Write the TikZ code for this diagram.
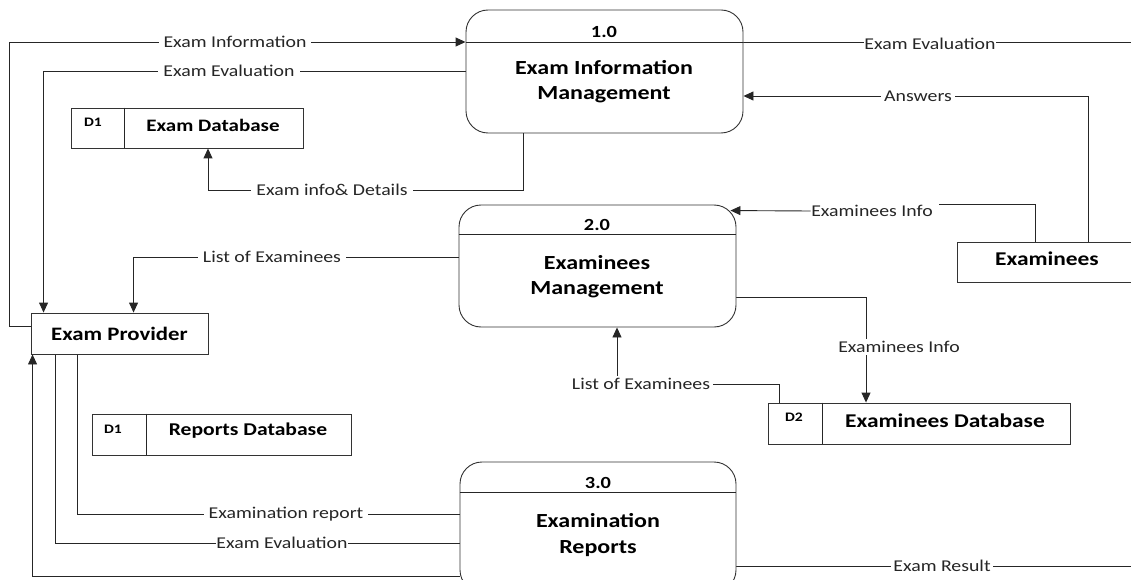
\documentclass[tikz,border=0pt]{standalone}
\usepackage{fontspec}
\setmainfont{Carlito}[FakeStretch=1.2]
\usetikzlibrary{arrows.meta}
\pgfdeclarelayer{bg}
\pgfsetlayers{bg,main}
\tikzset{
 ln/.style={draw=black!85, line width=0.9pt},
 arr/.style={ln, -{Triangle[length=10pt,width=9pt]}},
 proc/.style={draw=black!80, line width=0.9pt, rounded corners=22pt, minimum width=277pt, minimum height=123pt, inner sep=0pt, fill=white},
 ebox/.style={draw=black!80, line width=0.9pt, inner sep=0pt, fill=white},
 lbl/.style={fill=white, inner xsep=5pt, inner ysep=2pt, font=\fontsize{16.5}{18}\selectfont, text=black!85},
 tight/.style={inner xsep=0.5pt},
 ttl/.style={font=\bfseries\fontsize{20}{25}\selectfont, align=center, inner sep=0pt},
 num/.style={font=\bfseries\fontsize{17}{18}\selectfont, inner sep=0pt},
 dnum/.style={font=\bfseries\fontsize{13}{14}\selectfont, inner sep=0pt},
 dtxt/.style={font=\bfseries\fontsize{18}{20}\selectfont, inner sep=0pt},
}
\begin{document}
\begin{tikzpicture}[x=1pt,y=-1pt]
\useasboundingbox (0,0) rectangle (1131,580);
% processes
\node[proc] (p1) at (604.5,71.5) {};
\draw[ln] (p1.west |- 0,42) -- (p1.east |- 0,42);
\node[num] (p1n) at (604,32) {1.0};
\node[ttl] (p1t) at (604,82) {Exam Information\\Management};

\node[proc, minimum height=122pt] (p2) at (597.5,266) {};
\draw[ln] (p2.west |- 0,234) -- (p2.east |- 0,234);
\node[num] (p2n) at (597,225) {2.0};
\node[ttl] (p2t) at (597,277) {Examinees\\Management};

\node[proc, minimum width=276pt, minimum height=130pt] (p3) at (598,527) {};
\draw[ln] (p3.west |- 0,492) -- (p3.east |- 0,492);
\node[num] (p3n) at (598,483) {3.0};
\node[ttl, font=\bfseries\fontsize{20}{26}\selectfont] (p3t) at (598,535) {Examination\\Reports};

% entities
\node[ebox, minimum width=177pt, minimum height=41pt, font=\bfseries\fontsize{19}{20}\selectfont] (prov) at (119.5,333.5) {Exam Provider};
\node[ebox, minimum width=200pt, minimum height=40pt] (ex) at (1057,262) {};
\node[font=\bfseries\fontsize{19.5}{20}\selectfont, inner sep=0pt] (ext) at (1047,259) {Examinees};

% data stores
\node[ebox, minimum width=232pt, minimum height=40pt] (d1) at (187,128) {};
\draw[ln] (d1.north west) ++(54,0) -- ++(0,40);
\node[dnum] (d1n) at (93,122) {D1};
\node[dtxt, font=\bfseries\fontsize{17.5}{20}\selectfont] (d1t) at (213,125) {Exam Database};

\node[ebox, minimum width=259pt, minimum height=41pt] (d3) at (221.5,434.5) {};
\draw[ln] (d3.north west) ++(55,0) -- ++(0,41);
\node[dnum] (d3n) at (113,429) {D1};
\node[dtxt] (d3t) at (248,431) {Reports Database};

\node[ebox, minimum width=302pt, minimum height=41pt] (d2) at (919,423.5) {};
\draw[ln] (d2.north west) ++(55,0) -- ++(0,41);
\node[dnum] (d2n) at (794,417) {D2};
\node[dtxt, font=\bfseries\fontsize{19.5}{20}\selectfont] (d2t) at (945,421) {Examinees Database};

% free ends
\coordinate (rA) at (1135,42);
\coordinate (rB) at (1135,566);
\coordinate (p2b) at ([xshift=19.5pt]p2.south);

% labels
\node[lbl] (l1) at (235,42) {Exam Information};
\node[lbl] (l2) at (229,71) {Exam Evaluation};
\node[lbl] (l3) at (332,190) {Exam info\& Details};
\node[lbl, tight] (l4) at (930,44) {Exam Evaluation};
\node[lbl, inner xsep=3pt] (l5) at (918,96) {Answers};
\node[lbl, tight] (l6) at (872,211) {Examinees Info};
\node[lbl] (l7) at (272,257) {List of Examinees};
\node[lbl, inner xsep=2pt] (l8) at (899,347) {Examinees Info};
\node[lbl, inner xsep=3pt] (l9) at (641,384) {List of Examinees};
\node[lbl] (l10) at (286,514) {Examination report};
\node[lbl, tight] (l11) at (282,543) {Exam Evaluation};
\node[lbl, inner xsep=2pt] (l12) at (942,566) {Exam Result};

\begin{pgfonlayer}{bg}
\draw[arr] (prov.west |- 0,326) -- ++(-21,0) |- (p1.west |- 0,42);
\draw[arr] (p1.west |- 0,71) -| ([xshift=13pt]prov.north west);
\draw[arr] ([xshift=-81.5pt]p1.south) -- ++(0,57) -| ([xshift=21pt]d1.south);
\draw[ln] (p1.east |- 0,42) -- (rA);
\draw[arr] ([xshift=31pt]ex.north) |- (p1.east |- 0,96);
\draw[ln] ([xshift=-22pt]ex.north) |- ([xshift=6pt]l6.east |- 0,204);
\draw[arr] (l6.west |- 0,211) -- ([xshift=-6pt,yshift=-6pt]p2.north east);
\draw[arr] (p2.west |- 0,257) -| ([xshift=103pt]prov.north west);
\draw[arr] (p2.east |- 0,297) -| ([xshift=-53pt]d2.north);
\draw[arr] ([xshift=-140pt]d2.north) |- (p2b |- 0,384) -- (p2b);
\draw[arr] (p3.west |- 0,576) -| ([xshift=2pt]prov.south west);
\draw[ln] ([xshift=25pt]prov.south west) |- (p3.west |- 0,543);
\draw[ln] ([xshift=47pt]prov.south west) |- (p3.west |- 0,514);
\draw[ln] (p3.east |- 0,566) -- (rB);
\end{pgfonlayer}
\end{tikzpicture}
\end{document}
